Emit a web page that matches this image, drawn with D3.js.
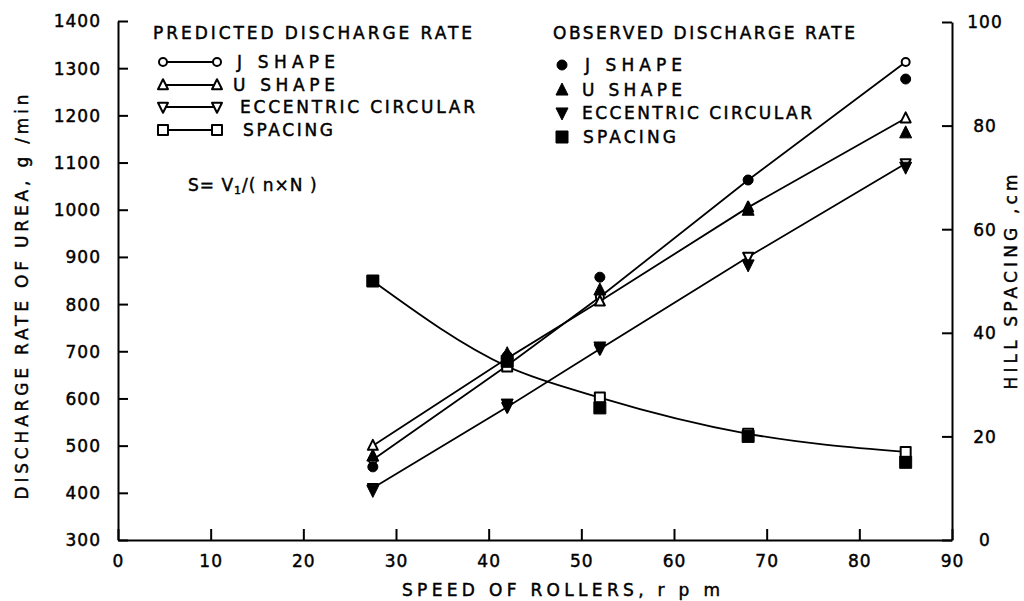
<!DOCTYPE html>
<html><head><meta charset="utf-8">
<script src="https://cdn.jsdelivr.net/npm/d3@7"></script>
<style>
html,body{margin:0;padding:0;background:#fff;}
svg{display:block;font-family:"DejaVu Sans",sans-serif;}
svg text{stroke:#000;stroke-width:0.45px;}
</style></head>
<body>
<svg id="chart" width="1024" height="601"></svg>
<script>
// ---------- data ----------
const xTicks = [0,10,20,30,40,50,60,70,80,90];
const yLeftTicks = [300,400,500,600,700,800,900,1000,1100,1200,1300,1400];
const yRightTicks = [0,20,40,60,80,100];
const speed = [27.5, 42, 52, 68, 85];
// predicted discharge rate, g/min
const predJ = [470, 670, 815, 1063, 1313];
const predU = [500, 685, 806, 1005, 1194];
const predE = [410, 582, 705, 900, 1098];
// predicted hill spacing, cm
const predS = [50, 33.5, 27.5, 20.5, 17];
// observed
const obsJ = [455, 690, 857, 1063, 1277];
const obsU = [478, 695, 830, 999, 1163];
const obsE = [405, 588, 709, 883, 1090];
const obsS = [50, 34.5, 25.5, 20, 15];

const legendPred = ["J SHAPE","U SHAPE","ECCENTRIC CIRCULAR","SPACING"];
const legendObs = ["J SHAPE","U SHAPE","ECCENTRIC CIRCULAR","SPACING"];
const shapes = ["circle","up","down","square"];

// ---------- setup ----------
const svg = d3.select("#chart");
const x = d3.scaleLinear().domain([0,90]).range([118,952]);
const yL = d3.scaleLinear().domain([300,1400]).range([540,21]);
const yR = d3.scaleLinear().domain([0,100]).range([540,22]);
const FONT = 17;

function markerPath(type, cx, cy, s){
  const h = s/2;
  if(type==="circle"){
    return `M${cx-h},${cy}a${h},${h} 0 1,0 ${s},0a${h},${h} 0 1,0 ${-s},0Z`;
  }
  if(type==="up"){
    return `M${cx},${cy-s*0.58}L${cx+h},${cy+s*0.42}L${cx-h},${cy+s*0.42}Z`;
  }
  if(type==="down"){
    return `M${cx},${cy+s*0.58}L${cx+h},${cy-s*0.42}L${cx-h},${cy-s*0.42}Z`;
  }
  return `M${cx-h},${cy-h}h${s}v${s}h${-s}Z`;
}
function marker(g, type, filled, cx, cy){
  const s = filled ? (type==="circle"?10:12) : (type==="circle"?8:10);
  g.append("path").attr("d", markerPath(type,cx,cy,s))
    .attr("fill", filled ? "#000" : "#fff")
    .attr("stroke", "#000").attr("stroke-width", filled?1:2)
    .attr("stroke-linejoin","round");
}

// ---------- axes ----------
const axStyle = g => {
  g.selectAll("path.domain").attr("stroke","#000").attr("stroke-width",2);
  g.selectAll(".tick line").attr("stroke","#000").attr("stroke-width",2);
  g.selectAll(".tick text").attr("fill","#000")
    .style("font-family",'"DejaVu Sans",sans-serif').style("font-size","17px")
    .style("letter-spacing","1px");
};
const gx = svg.append("g").attr("transform","translate(0,540)")
  .call(d3.axisBottom(x).tickValues(xTicks).tickSizeInner(-11).tickSizeOuter(0).tickFormat(d3.format("d")));
axStyle(gx);
gx.selectAll(".tick text").attr("y",21).attr("dy","0.35em");

const gl = svg.append("g").attr("transform","translate(118,0)")
  .call(d3.axisLeft(yL).tickValues(yLeftTicks).tickSizeInner(-10).tickSizeOuter(0).tickFormat(d3.format("d")));
axStyle(gl);
gl.selectAll(".tick text").attr("x",-17).attr("dy","0.35em").attr("text-anchor","end");

const gr = svg.append("g").attr("transform","translate(952,0)")
  .call(d3.axisRight(yR).tickValues(yRightTicks).tickSizeInner(-10).tickSizeOuter(0).tickFormat(d3.format("d")));
axStyle(gr);
gr.selectAll(".tick text").attr("x",33).attr("dy","0.35em").attr("text-anchor","middle");

// ---------- axis titles ----------
function label(txt, x0, y0, len, rot){
  const t = svg.append("text").attr("font-size",FONT).attr("fill","#000")
    .attr("dominant-baseline","central").attr("text-anchor","middle")
    .attr("textLength",len).attr("lengthAdjust","spacing").text(txt);
  if(rot) t.attr("transform",`translate(${x0},${y0}) rotate(-90)`);
  else t.attr("x",x0).attr("y",y0);
  return t;
}
label("SPEED  OF  ROLLERS, r p m", 561, 590, 318, false);
label("DISCHARGE  RATE  OF  UREA, g /min", 22, 297, 405, true);
label("HILL  SPACING ,cm", 1011, 282, 215, true);

// ---------- lines ----------
const line = d3.line().x(d=>x(d[0])).y(d=>d[1]);
const plot = svg.append("g");
[predJ,predU,predE].forEach(arr=>{
  plot.append("path").datum(speed.map((s,i)=>[s,yL(arr[i])]))
    .attr("d", line).attr("fill","none").attr("stroke","#000").attr("stroke-width",1.8);
});
plot.append("path").datum(speed.map((s,i)=>[s,yR(predS[i])]))
  .attr("d", line.curve(d3.curveMonotoneX)).attr("fill","none").attr("stroke","#000").attr("stroke-width",1.8);

// ---------- markers ----------
const series = [[predJ,obsJ,yL],[predU,obsU,yL],[predE,obsE,yL],[predS,obsS,yR]];
series.forEach(([p,o,sc],k)=>{
  speed.forEach((s,i)=>marker(plot, shapes[k], false, x(s), sc(p[i])));
});
series.forEach(([p,o,sc],k)=>{
  speed.forEach((s,i)=>marker(plot, shapes[k], true, x(s), sc(o[i])));
});

// ---------- legends ----------
function leftText(txt, x0, x1, y0){
  svg.append("text").attr("x",x0).attr("y",y0).attr("font-size",FONT).attr("fill","#000")
    .attr("dominant-baseline","central").attr("textLength",x1-x0).attr("lengthAdjust","spacing").text(txt);
}
leftText("PREDICTED  DISCHARGE  RATE", 153, 472, 33);
const predRows = [62,85,107,130];
const predTextX = [[237,335],[233,335],[240,475],[243,333]];
legendPred.forEach((t,i)=>{
  const y0 = predRows[i];
  svg.append("line").attr("x1",163).attr("x2",217).attr("y1",y0).attr("y2",y0)
    .attr("stroke","#000").attr("stroke-width",1.8);
  marker(svg, shapes[i], false, 163, y0);
  marker(svg, shapes[i], false, 217, y0);
  leftText(t, predTextX[i][0], predTextX[i][1], y0);
});
// formula
const f = svg.append("text").attr("x",188).attr("y",185).attr("font-size",FONT)
  .attr("dominant-baseline","central").attr("fill","#000").style("letter-spacing","1px");
f.append("tspan").text("S= V");
f.append("tspan").attr("font-size",11).attr("dy",5).text("1");
f.append("tspan").attr("dy",-5).text("/( n×N )");

leftText("OBSERVED  DISCHARGE  RATE", 553, 855, 33);
const obsRows = [65,90,113,137];
const obsTextX = [[585,682],[582,682],[582,812],[583,676]];
legendObs.forEach((t,i)=>{
  const y0 = obsRows[i];
  marker(svg, shapes[i], true, 562, y0);
  leftText(t, obsTextX[i][0], obsTextX[i][1], y0);
});
</script>
</body></html>
